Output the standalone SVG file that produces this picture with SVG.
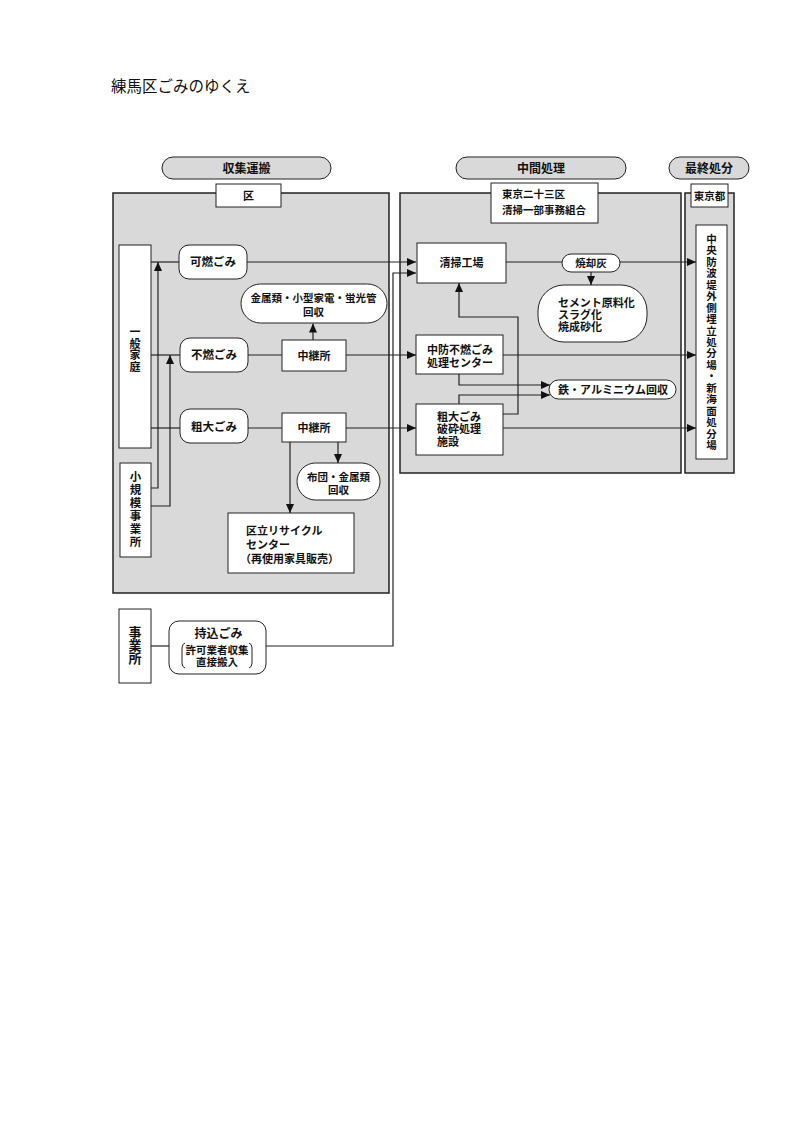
<svg xmlns="http://www.w3.org/2000/svg" width="793" height="1122" viewBox="0 0 793 1122">
<style>
.bg{fill:#fff}
.box{fill:#d9d9d9;stroke:#222;stroke-width:1.5}
.hdr{fill:#d9d9d9;stroke:#222;stroke-width:1}
.w{fill:#fff;stroke:#222;stroke-width:1}
.t{font-family:'Noto Sans CJK JP','Noto Sans CJK SC',sans-serif;font-size:11px;font-weight:bold;fill:#111}
.c{text-anchor:middle}
.ln{fill:none;stroke:#222;stroke-width:1.2}
.ttl{font-family:'Noto Sans CJK JP','Noto Sans CJK SC',sans-serif;font-size:15.5px;fill:#111}
</style>
<defs>
<marker id="ah" viewBox="0 0 9 8" refX="9" refY="4" markerWidth="9" markerHeight="8" markerUnits="userSpaceOnUse" orient="auto">
<path d="M0,0 L9,4 L0,8 z" fill="#111"/>
</marker>
</defs>
<rect class="bg" x="0" y="0" width="793" height="1122"/>
<text class="ttl" x="111" y="92">練馬区ごみのゆくえ</text>

<g id="hdr-collect"><rect class="hdr" x="162" y="157" width="169" height="22" rx="11"/><text class="t c" x="246.5" y="172.5" style="font-size:12px">収集運搬</text></g>
<g id="hdr-mid"><rect class="hdr" x="456" y="157" width="170" height="22" rx="11"/><text class="t c" x="541" y="172.5" style="font-size:12px">中間処理</text></g>
<g id="hdr-final"><rect class="hdr" x="669" y="157" width="80" height="22" rx="11"/><text class="t c" x="709" y="172.5" style="font-size:12px">最終処分</text></g>

<g id="area-ku"><rect class="box" x="113" y="193" width="276" height="400"/>
<rect class="w" x="216" y="184" width="65" height="23"/><text class="t c" x="248.5" y="199.5">区</text></g>
<g id="area-mid"><rect class="box" x="400" y="193" width="281" height="280"/>
<rect class="w" x="491" y="183" width="107" height="40"/><text class="t" x="502" y="198" style="font-size:10.5px">東京二十三区</text><text class="t" x="502" y="214" style="font-size:10.5px">清掃一部事務組合</text></g>
<g id="area-final"><rect class="box" x="685" y="193" width="49" height="280"/>
<rect class="w" x="691" y="184" width="37" height="23"/><text class="t c" x="709.5" y="199.5" style="font-size:10.5px">東京都</text></g>

<g id="landfill"><rect class="w" x="696" y="225" width="31" height="234"/>
<text class="t c" style="font-size:10.5px">
<tspan x="711.5" y="243">中</tspan><tspan x="711.5" y="254.4">央</tspan><tspan x="711.5" y="265.9">防</tspan><tspan x="711.5" y="277.3">波</tspan><tspan x="711.5" y="288.8">堤</tspan><tspan x="711.5" y="300.2">外</tspan><tspan x="711.5" y="311.6">側</tspan><tspan x="711.5" y="323.1">埋</tspan><tspan x="711.5" y="334.5">立</tspan><tspan x="711.5" y="346">処</tspan><tspan x="711.5" y="357.4">分</tspan><tspan x="711.5" y="368.8">場</tspan><tspan x="711.5" y="380.3">・</tspan><tspan x="711.5" y="391.7">新</tspan><tspan x="711.5" y="403.2">海</tspan><tspan x="711.5" y="414.6">面</tspan><tspan x="711.5" y="426">処</tspan><tspan x="711.5" y="437.5">分</tspan><tspan x="711.5" y="449">場</tspan>
</text></g>

<g id="household"><rect class="w" x="119" y="245" width="32" height="203"/>
<text class="t c" style="font-size:11px"><tspan x="135" y="336">一</tspan><tspan x="135" y="347.7">般</tspan><tspan x="135" y="359.4">家</tspan><tspan x="135" y="371.1">庭</tspan></text></g>
<g id="small-biz"><rect class="w" x="120" y="463" width="31" height="94"/>
<text class="t c" style="font-size:11.5px"><tspan x="135.5" y="481">小</tspan><tspan x="135.5" y="494">規</tspan><tspan x="135.5" y="507">模</tspan><tspan x="135.5" y="520">事</tspan><tspan x="135.5" y="533">業</tspan><tspan x="135.5" y="546">所</tspan></text></g>
<g id="biz"><rect class="w" x="119" y="609" width="32" height="74"/>
<text class="t c" style="font-size:13px"><tspan x="135" y="636.5">事</tspan><tspan x="135" y="649.8">業</tspan><tspan x="135" y="663.1">所</tspan></text></g>

<g id="kanen"><rect class="w" x="179" y="245" width="68" height="34" rx="10"/><text class="t c" x="213" y="266.3" style="font-size:11.5px">可燃ごみ</text></g>
<g id="funen"><rect class="w" x="180" y="338" width="68" height="34" rx="10"/><text class="t c" x="214" y="359.3" style="font-size:11.5px">不燃ごみ</text></g>
<g id="sodai"><rect class="w" x="180" y="409" width="68" height="34" rx="10"/><text class="t c" x="214" y="430.5" style="font-size:11.5px">粗大ごみ</text></g>
<g id="relay1"><rect class="w" x="282" y="340" width="64" height="31"/><text class="t c" x="314" y="359.5">中継所</text></g>
<g id="relay2"><rect class="w" x="282" y="413" width="64" height="29"/><text class="t c" x="314" y="432">中継所</text></g>
<g id="metal-recov"><rect class="w" x="241" y="284" width="146" height="39" rx="19.5"/><text class="t c" x="313.5" y="302" style="font-size:10.5px">金属類・小型家電・蛍光管</text><text class="t c" x="313.5" y="315.5" style="font-size:10.5px">回収</text></g>
<g id="futon-recov"><rect class="w" x="297" y="463" width="83" height="37" rx="18.5"/><text class="t c" x="338.5" y="480.5" style="font-size:10.5px">布団・金属類</text><text class="t c" x="338.5" y="493.5" style="font-size:10.5px">回収</text></g>
<g id="recycle-center"><rect class="w" x="228" y="513" width="126" height="60"/><text class="t" x="246" y="534.5">区立リサイクル</text><text class="t" x="246" y="548.5">センター</text><text class="t" x="240" y="563">（再使用家具販売）</text></g>
<g id="mochikomi"><rect class="w" x="169" y="621" width="97" height="53" rx="10"/><text class="t c" x="218.5" y="637.5" style="font-size:12px">持込ごみ</text><text class="t c" x="217" y="654" style="font-size:10.5px">許可業者収集</text><text class="t c" x="217" y="665.5" style="font-size:10.5px">直接搬入</text>
<path class="ln" style="stroke-width:1" d="M185,643 Q182,644 182,648 V663 Q182,667 185,668"/><path class="ln" style="stroke-width:1" d="M249,643 Q252,644 252,648 V663 Q252,667 249,668"/></g>

<g id="plant"><rect class="w" x="417" y="243" width="89" height="40"/><text class="t c" x="461.5" y="267">清掃工場</text></g>
<g id="ash"><rect class="w" x="562" y="254" width="58" height="18" rx="9"/><text class="t c" x="591" y="267" style="font-size:10.5px">焼却灰</text></g>
<g id="ash-use"><rect class="w" x="538" y="285" width="109" height="57" rx="26"/><text class="t" x="558" y="306.5">セメント原料化</text><text class="t" x="558" y="318.8">スラグ化</text><text class="t" x="558" y="331">焼成砂化</text></g>
<g id="chubo"><rect class="w" x="416" y="335" width="87" height="39"/><text class="t" x="427" y="354">中防不燃ごみ</text><text class="t" x="427" y="366.5">処理センター</text></g>
<g id="iron"><rect class="w" x="549" y="380" width="127" height="19" rx="9.5"/><text class="t c" x="613" y="393.8">鉄・アルミニウム回収</text></g>
<g id="crush"><rect class="w" x="416" y="404" width="87" height="51"/><text class="t" x="437" y="420.5">粗大ごみ</text><text class="t" x="437" y="433">破砕処理</text><text class="t" x="437" y="445.5">施設</text></g>

<g id="connectors">
<path class="ln" d="M151,262 H179"/>
<path class="ln" d="M151,355 H180"/>
<path class="ln" d="M151,428 H180"/>
<path class="ln" d="M151,488 H158 V262" marker-end="url(#ah)"/>
<path class="ln" d="M151,506 H170 V355" marker-end="url(#ah)"/>
<path class="ln" d="M247,262 H416" marker-end="url(#ah)"/>
<path class="ln" d="M248,355 H282"/>
<path class="ln" d="M346,355 H416" marker-end="url(#ah)"/>
<path class="ln" d="M248,428 H282"/>
<path class="ln" d="M346,428 H416" marker-end="url(#ah)"/>
<path class="ln" d="M313,340 V323.5" marker-end="url(#ah)"/>
<path class="ln" d="M338,442 V463" marker-end="url(#ah)"/>
<path class="ln" d="M290,442 V513" marker-end="url(#ah)"/>
<path class="ln" d="M151,646 H169"/>
<path class="ln" d="M266,646 H393 V273 H416" marker-end="url(#ah)"/>
<path class="ln" d="M506,262 H562"/>
<path class="ln" d="M620,262 H696" marker-end="url(#ah)"/>
<path class="ln" d="M591,272 V285" marker-end="url(#ah)"/>
<path class="ln" d="M503,355 H696" marker-end="url(#ah)"/>
<path class="ln" d="M459,374 V385 H550" marker-end="url(#ah)"/>
<path class="ln" d="M459,404 V395 H550" marker-end="url(#ah)"/>
<path class="ln" d="M503,414 H518 V317 H459 V283" marker-end="url(#ah)"/>
<path class="ln" d="M503,428 H696" marker-end="url(#ah)"/>
</g>
</svg>
